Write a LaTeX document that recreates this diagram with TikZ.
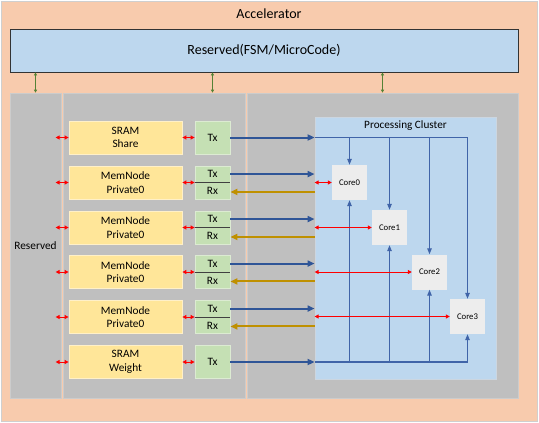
\documentclass[tikz,border=0pt]{standalone}
\usepackage{fontspec}
\setmainfont{Carlito}
\usepackage{xcolor}
\usetikzlibrary{arrows.meta,calc}

\definecolor{accfill}{HTML}{F8CBAD}
\definecolor{accline}{HTML}{CFCFCF}
\definecolor{fsmfill}{HTML}{BDD7EE}
\definecolor{panelfill}{HTML}{BFBFBF}
\definecolor{memfill}{HTML}{FFE699}
\definecolor{memline}{HTML}{FFF0C8}
\definecolor{txfill}{HTML}{C5E0B4}
\definecolor{txline}{HTML}{DCEBD2}
\definecolor{pcline}{HTML}{CCD6E0}
\definecolor{corefill}{HTML}{EDEDED}
\definecolor{txblue}{HTML}{2F5597}
\definecolor{busblue}{HTML}{4064A8}
\definecolor{rxgold}{HTML}{BF9000}
\definecolor{ctrlgreen}{HTML}{548235}

\begin{document}
\begin{tikzpicture}[x=1pt,y=1pt,yscale=-1,
  box/.style={rectangle,inner sep=0pt,align=center},
  panel/.style={box,fill=panelfill,draw=panelfill!80!white,line width=0.6pt,minimum height=305pt,font=\fontsize{11.3}{13.6}\selectfont},
  membox/.style={box,fill=memfill,draw=memline,line width=0.8pt,minimum width=113pt,minimum height=33pt,font=\fontsize{11.3}{13.6}\selectfont},
  txbox/.style={box,fill=txfill,draw=txline,line width=0.8pt,minimum width=35pt,minimum height=33pt,font=\fontsize{11.3}{17}\selectfont},
  corebox/.style={box,fill=corefill,minimum width=35pt,minimum height=35pt,font=\fontsize{8.7}{10}\selectfont},
  divider/.style={draw=black!75,line width=1pt},
  txlink/.style={draw=txblue,line width=2pt,-{Triangle[length=7pt,width=6pt]}},
  rxlink/.style={draw=rxgold,line width=2pt,-{Triangle[length=7pt,width=6pt]}},
  buslink/.style={draw=busblue,line width=1.2pt},
  busarrow/.style={buslink,-{Triangle[length=6pt,width=4.5pt]}},
  redlink/.style={draw=red,line width=1pt,{Triangle[length=4pt,width=4pt]}-{Triangle[length=4pt,width=4pt]}},
  greenlink/.style={draw=ctrlgreen,line width=0.8pt,{Triangle[length=3pt,width=3pt]}-{Triangle[length=3pt,width=3pt]}}
]
\useasboundingbox (0,0) rectangle (539,423);

\node [box,fill=accfill,draw=accline,line width=0.8pt,minimum width=536pt,minimum height=420pt] (acc) at (269,211) {};
\node [font=\fontsize{14}{16}\selectfont] (acctitle) at (269,14) {Accelerator};
\node [box,fill=fsmfill,draw=black!80,line width=0.8pt,minimum width=508pt,minimum height=43pt,font=\fontsize{14}{16}\selectfont] (fsm) at (264,50.5) {Reserved(FSM/MicroCode)};

\node [panel,minimum width=51pt] (lres) at (35.5,245.5) {Reserved};
\node [panel,minimum width=182pt] (mres) at (154,245.5) {};
\node [panel,minimum width=271pt] (rres) at (382.5,245.5) {};

\node [membox] (m1) at (125.5,137.5) {SRAM\\Share};
\node [membox] (m2) at (125.5,182.5) {MemNode\\Private0};
\node [membox] (m3) at (125.5,227.5) {MemNode\\Private0};
\node [membox] (m4) at (125.5,272) {MemNode\\Private0};
\node [membox] (m5) at (125.5,317) {MemNode\\Private0};
\node [membox] (m6) at (125.5,362) {SRAM\\Weight};

\node [txbox] (t1) at (212.5,137.5) {Tx};
\node [txbox] (t2) at (212.5,182.5) {Tx\\Rx};
\node [txbox] (t3) at (212.5,227.5) {Tx\\Rx};
\node [txbox] (t4) at (212.5,272) {Tx\\Rx};
\node [txbox] (t5) at (212.5,317) {Tx\\Rx};
\node [txbox] (t6) at (212.5,362) {Tx};

\draw [divider] (t2.west) -- (t2.east);
\draw [divider] (t3.west) -- (t3.east);
\draw [divider] (t4.west) -- (t4.east);
\draw [divider] (t5.west) -- (t5.east);

\node [box,fill=fsmfill,draw=pcline,line width=0.8pt,minimum width=181pt,minimum height=262pt] (pc) at (405.5,248) {};
\node [font=\fontsize{11.2}{13}\selectfont] (pctitle) at (405.5,126) {Processing Cluster};

\node [corebox] (c0) at (349.5,182.5) {Core0};
\node [corebox] (c1) at (389.5,227.5) {Core1};
\node [corebox] (c2) at (429.5,272) {Core2};
\node [corebox] (c3) at (467.5,316.5) {Core3};

\draw [greenlink] (fsm.south -| lres) -- (lres.north);
\draw [greenlink] (fsm.south -| t1) -- (t1 |- mres.north);
\draw [greenlink] (fsm.south -| rres) -- (rres.north);

\draw [redlink] (m1.west) -- ++(-13,0);
\draw [redlink] (m2.west) -- ++(-13,0);
\draw [redlink] (m3.west) -- ++(-13,0);
\draw [redlink] (m4.west) -- ++(-13,0);
\draw [redlink] (m5.west) -- ++(-13,0);
\draw [redlink] (m6.west) -- ++(-13,0);

\draw [redlink] (m1) -- (t1);
\draw [redlink] (m2) -- (t2);
\draw [redlink] (m3) -- (t3);
\draw [redlink] (m4) -- (t4);
\draw [redlink] (m5) -- (t5);
\draw [redlink] (m6) -- (t6);

\coordinate (t2tx) at ($(t2.north east)!.25!(t2.south east)$);
\coordinate (t2rx) at ($(t2.north east)!.78!(t2.south east)$);
\coordinate (t3tx) at ($(t3.north east)!.25!(t3.south east)$);
\coordinate (t3rx) at ($(t3.north east)!.78!(t3.south east)$);
\coordinate (t4tx) at ($(t4.north east)!.25!(t4.south east)$);
\coordinate (t4rx) at ($(t4.north east)!.78!(t4.south east)$);
\coordinate (t5tx) at ($(t5.north east)!.25!(t5.south east)$);
\coordinate (t5rx) at ($(t5.north east)!.78!(t5.south east)$);

\draw [buslink] (t1 -| pc.west) -- (t1 -| c3) -- (t1 -| c3);
\draw [busarrow] (t1 -| c3) -- (c3.north);
\draw [busarrow] (t1 -| c0) -- (c0.north);
\draw [busarrow] (t1 -| c1) -- (c1.north);
\draw [busarrow] (t1 -| c2) -- (c2.north);
\draw [buslink] (t6 -| pc.west) -- (t6 -| c3);
\draw [busarrow] (t6 -| c3) -- (c3.south);
\draw [busarrow] (t6 -| c0) -- (c0.south);
\draw [busarrow] (t6 -| c1) -- (c1.south);
\draw [busarrow] (t6 -| c2) -- (c2.south);

\draw [txlink] (t1) -- (t1 -| pc.west);
\draw [txlink] (t2tx) -- (t2tx -| pc.west);
\draw [txlink] (t3tx) -- (t3tx -| pc.west);
\draw [txlink] (t4tx) -- (t4tx -| pc.west);
\draw [txlink] (t5tx) -- (t5tx -| pc.west);
\draw [txlink] (t6) -- (t6 -| pc.west);

\draw [rxlink] (t2rx -| pc.west) -- (t2rx);
\draw [rxlink] (t3rx -| pc.west) -- (t3rx);
\draw [rxlink] (t4rx -| pc.west) -- (t4rx);
\draw [rxlink] (t5rx -| pc.west) -- (t5rx);

\draw [redlink] (c0 -| pc.west) -- (c0.west);
\draw [redlink] (c1 -| pc.west) -- (c1.west);
\draw [redlink] (c2 -| pc.west) -- (c2.west);
\draw [redlink] (c3 -| pc.west) -- (c3.west);

\end{tikzpicture}
\end{document}
